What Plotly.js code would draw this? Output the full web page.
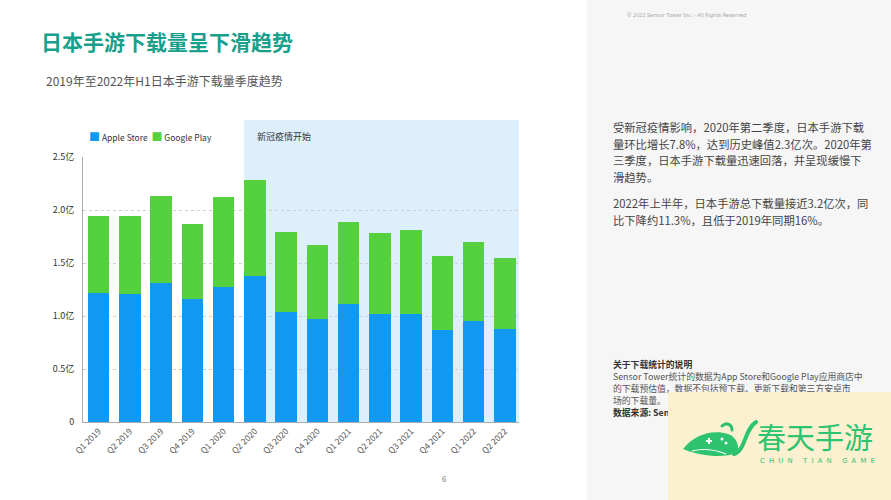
<!DOCTYPE html>
<html>
<head>
<meta charset="utf-8">
<script src="https://cdn.plot.ly/plotly-3.0.1.min.js"></script>
<style>
  body { margin:0; background:#fff; font-family:"Noto Sans CJK SC","Noto Sans",sans-serif; }
  #page { position:relative; width:891px; height:500px; overflow:hidden; }
  #side { position:absolute; left:587px; top:0; width:304px; height:500px; background:#f6f6f6; }
  #chart { position:absolute; left:0; top:0; width:891px; height:500px; }
  .txt { position:absolute; white-space:nowrap; color:#444; }
  #copy { left:627px; top:11px; font-size:5.5px; color:#aaa; font-family:"Noto Sans",sans-serif; }
  #para { left:613px; top:119px; font-size:11.3px; line-height:16.5px; }
  #para p { margin:0 0 10px 0; }
  #notes { left:613px; top:359px; font-size:8.8px; line-height:12px; color:#555; }
  #notes b { color:#333; }
  #pnum { left:442px; top:473px; font-size:8px; color:#777; }
  #logo { position:absolute; left:668px; top:392px; width:223px; height:108px; background:#fbf0cf; }
  #logo .cn { position:absolute; left:89px; top:27px; font-size:29px; line-height:34px; color:#2ec46f; }
  #logo .en { position:absolute; left:92px; top:65px; font-size:6.8px; color:#2ec46f; letter-spacing:4.2px; font-family:"DejaVu Sans",sans-serif; }
  #logo svg { position:absolute; left:14px; top:26px; }
</style>
</head>
<body>
<div id="page">
  <div id="side"></div>
  <div id="chart"></div>
  <div class="txt" id="copy">© 2022 Sensor Tower Inc. - All Rights Reserved</div>
  <div class="txt" id="para">
    <p>受新冠疫情影响，2020年第二季度，日本手游下载<br>量环比增长7.8%，达到历史峰值2.3亿次。2020年第<br>三季度，日本手游下载量迅速回落，并呈现缓慢下<br>滑趋势。</p>
    <p>2022年上半年，日本手游总下载量接近3.2亿次，同<br>比下降约11.3%，且低于2019年同期16%。</p>
  </div>
  <div class="txt" id="notes">
    <b>关于下载统计的说明</b><br>
    Sensor Tower统计的数据为App Store和Google Play应用商店中<br>
    的下载预估值，数据不包括预下载、更新下载和第三方安卓市<br>
    场的下载量。<br>
    <b>数据来源: Sensor Tower</b>
  </div>
  <div class="txt" id="pnum">6</div>
  <div id="logo">
    <svg width="76" height="40" viewBox="0 0 76 40">
      <path d="M1,31 C12,17 30,11 46,16 C54,19 58,27 55,35 C42,40 20,39 1,31 Z" fill="#2ec46f"/>
      <path d="M52,36 C64,32 62,12 74,4" stroke="#2ec46f" stroke-width="4" fill="none" stroke-linecap="round"/>
      <path d="M40,8 C44,4 50,6 50,12" stroke="#2ec46f" stroke-width="3" fill="none" stroke-linecap="round"/>
      <path d="M24,23 h6 M27,20 v6" stroke="#fff" stroke-width="2"/>
      <circle cx="40" cy="21" r="1.5" fill="#fff"/>
      <circle cx="44" cy="25" r="1.5" fill="#fff"/>
      <path d="M10,33 C22,30 34,32 44,36" stroke="#fff" stroke-width="1.2" fill="none"/>
    </svg>
    <div class="cn">春天手游</div>
    <div class="en">CHUN TIAN GAME</div>
  </div>
</div>
<script>
// quarterly downloads, 亿
const quarters = ['Q1 2019','Q2 2019','Q3 2019','Q4 2019','Q1 2020','Q2 2020','Q3 2020',
                  'Q4 2020','Q1 2021','Q2 2021','Q3 2021','Q4 2021','Q1 2022','Q2 2022'];
const appleStore  = [1.22,1.21,1.31,1.16,1.27,1.38,1.04,0.97,1.11,1.02,1.02,0.87,0.95,0.88];
const googlePlay  = [0.72,0.73,0.82,0.71,0.85,0.90,0.75,0.70,0.78,0.76,0.79,0.70,0.75,0.67];
const yTicks      = [0,0.5,1,1.5,2,2.5];
const yTickText   = ['0','0.5亿','1.0亿','1.5亿','2.0亿','2.5亿'];
const covidStart  = 'Q2 2020';

const cjk = '"Noto Sans CJK SC","Noto Sans",sans-serif';
const colors = {apple:'#1199f1', google:'#55d03f'};
const bargap = 0.31;
const xRange = [-0.5, 13.45];

// shaded period begins at the left edge of the Q2 2020 bar
const shadeX0 = quarters.indexOf(covidStart) - (1 - bargap) / 2;
const toPaper = v => (v - xRange[0]) / (xRange[1] - xRange[0]);
// page pixel -> paper coords of the plot area
const px = x => (x - 83) / 436, py = y => (421.7 - y) / 264.7;

const traces = [
  {type:'bar', name:'Apple Store', x:quarters, y:appleStore, marker:{color:colors.apple}},
  {type:'bar', name:'Google Play', x:quarters, y:googlePlay, marker:{color:colors.google}}
];

// compact legend like the original (squares right next to labels)
const legendText = traces.map(t =>
  `<span style="color:${t.marker.color};font-size:11px">■</span> ${t.name}`).join('  ');

const layout = {
  width:891, height:500,
  paper_bgcolor:'rgba(0,0,0,0)', plot_bgcolor:'rgba(0,0,0,0)',
  margin:{l:83, r:372, t:157, b:78},
  barmode:'stack', bargap:bargap,
  font:{family:cjk, color:'#333'},
  title:{text:'<b>日本手游下载量呈下滑趋势</b>', x:41/891, xanchor:'left', xref:'container',
         y:1-43/500, yanchor:'middle', yref:'container', font:{size:21, color:'#17a08c', family:cjk}},
  xaxis:{type:'category', range:xRange, tickangle:-45, tickfont:{size:8.5, color:'#555'},
         showline:true, linecolor:'#aaa', linewidth:1, ticks:'', showgrid:false},
  yaxis:{range:[0,2.5], tickvals:yTicks, ticktext:yTickText, tickfont:{size:9, color:'#333'},
         showline:true, linecolor:'#aaa', linewidth:1, ticks:'', ticklabelstandoff:6,
         showgrid:true, gridcolor:'#d0d0d0', griddash:'dot', zeroline:false},
  showlegend:false,
  shapes:[
    {type:'rect', layer:'below', xref:'paper', yref:'paper',
     x0:toPaper(shadeX0), x1:1, y0:0, y1:1.14, fillcolor:'#ddeffc', line:{width:0}}
  ],
  annotations:[
    {text:'2019年至2022年H1日本手游下载量季度趋势', xref:'paper', yref:'paper',
     x:px(44), y:py(81), xanchor:'left', yanchor:'middle', showarrow:false,
     font:{size:12, color:'#555'}},
    {text:legendText, xref:'paper', yref:'paper',
     x:px(87), y:py(136), xanchor:'left', yanchor:'middle', showarrow:false,
     font:{size:8.5, color:'#333'}},
    {text:'新冠疫情开始', xref:'paper', yref:'paper',
     x:toPaper(shadeX0)+0.025, y:py(137), xanchor:'left', yanchor:'middle', showarrow:false,
     font:{size:9, color:'#333'}}
  ]
};

Plotly.newPlot('chart', traces, layout, {displayModeBar:false, staticPlot:true});
</script>
</body>
</html>
